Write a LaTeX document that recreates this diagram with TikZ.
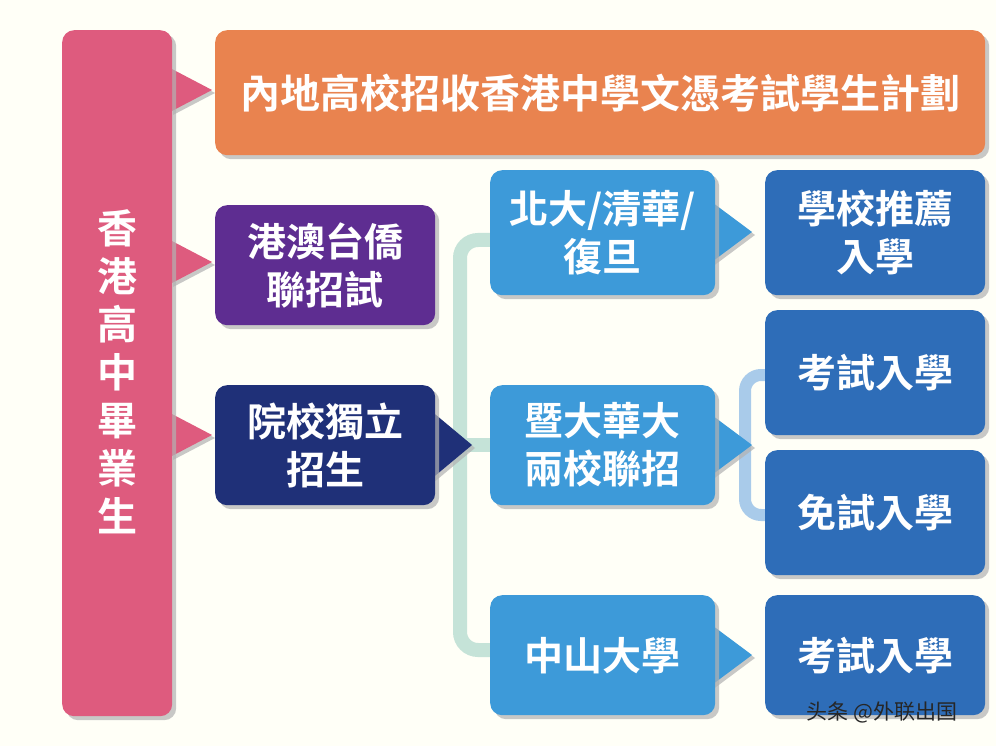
\documentclass[tikz,border=0pt]{standalone}
\usepackage{fontspec}
\setmainfont{Noto Sans CJK TC}[BoldFont={Noto Sans CJK TC Bold}]
\usetikzlibrary{shadows}
\definecolor{pinkc}{HTML}{DE5B7E}
\definecolor{orangec}{HTML}{E9834F}
\definecolor{purplec}{HTML}{5E2D91}
\definecolor{navyc}{HTML}{1F3078}
\definecolor{bluec}{HTML}{3D9AD9}
\definecolor{dbluec}{HTML}{2E6DB8}
\definecolor{mintc}{HTML}{C5E3D8}
\definecolor{lbluec}{HTML}{A9CBEA}
\tikzset{x=1pt,y=-1pt,
 boxs/.style={rounded corners=12pt,drop shadow={shadow xshift=4pt,shadow yshift=-4pt,fill=gray!60,opacity=0.7}},
 txt/.style={text=white,font=\bfseries\fontsize{39}{48}\selectfont,align=center},
 tab/.style={drop shadow={shadow xshift=3pt,shadow yshift=-3pt,fill=gray!60,opacity=0.7}}}
\begin{document}
\begin{tikzpicture}
\fill[white!97!yellow] (0,0) rectangle (996,746);
\useasboundingbox (0,0) rectangle (996,746);
% connectors
\draw[mintc,line width=14pt,rounded corners=18pt] (490,240) -- (460,240) -- (460,650) -- (490,650);
\draw[mintc,line width=14pt] (460,445) -- (490,445);
\draw[lbluec,line width=12pt,rounded corners=16pt] (770,375) -- (745,375) -- (745,515) -- (770,515);
% pink
\fill[pinkc,tab] (170,68) -- (212,90) -- (170,112) -- cycle;
\fill[pinkc,tab] (170,240) -- (212,262) -- (170,284) -- cycle;
\fill[pinkc,tab] (170,413) -- (212,435) -- (170,457) -- cycle;
\node[boxs,fill=pinkc,minimum width=110pt,minimum height=686pt,anchor=north west] (pink) at (62,30) {};
\node[txt,font=\bfseries\fontsize{40}{48}\selectfont] (pinkt) at (117,372) {香\\港\\高\\中\\畢\\業\\生};
\node[boxs,fill=orangec,minimum width=770pt,minimum height=125pt,anchor=north west] (orange) at (215,30) {};
\node[txt,font=\bfseries\fontsize{40}{48}\selectfont] at (orange.center) {內地高校招收香港中學文憑考試學生計劃};
\node[boxs,fill=purplec,minimum width=220pt,minimum height=120pt,anchor=north west] (purple) at (215,205) {};
\node[txt] at (purple.center) {港澳台僑\\聯招試};
\fill[navyc,tab] (430,410) -- (472,445) -- (430,480) -- cycle;
\node[boxs,fill=navyc,minimum width=220pt,minimum height=120pt,anchor=north west] (navy) at (215,385) {};
\node[txt] at (navy.center) {院校獨立\\招生};
% mid blue
\foreach \y/\n in {232/m1,445/m2,655/m3}{
 \fill[bluec,tab] (705,\y-35) -- (752,\y) -- (705,\y+35) -- cycle;}
\node[boxs,fill=bluec,minimum width=225pt,minimum height=125pt,anchor=north west] (m1) at (490,170) {};
\node[txt] at (m1.center) {北大/清華/\\復旦};
\node[boxs,fill=bluec,minimum width=225pt,minimum height=120pt,anchor=north west] (m2) at (490,385) {};
\node[txt] at (m2.center) {暨大華大\\兩校聯招};
\node[boxs,fill=bluec,minimum width=225pt,minimum height=120pt,anchor=north west] (m3) at (490,595) {};
\node[txt] at (m3.center) {中山大學};
% right
\node[boxs,fill=dbluec,minimum width=220pt,minimum height=125pt,anchor=north west] (r1) at (765,170) {};
\node[txt] at (r1.center) {學校推薦\\入學};
\node[boxs,fill=dbluec,minimum width=220pt,minimum height=125pt,anchor=north west] (r2) at (765,310) {};
\node[txt] at (r2.center) {考試入學};
\node[boxs,fill=dbluec,minimum width=220pt,minimum height=125pt,anchor=north west] (r3) at (765,450) {};
\node[txt] at (r3.center) {免試入學};
\node[boxs,fill=dbluec,minimum width=220pt,minimum height=120pt,anchor=north west] (r4) at (765,595) {};
\node[txt] at (r4.center) {考試入學};
\node[text=black!85,font=\fontsize{21}{24}\selectfont] (wm) at (882,712) {头条 @外联出国};
\end{tikzpicture}
\end{document}
